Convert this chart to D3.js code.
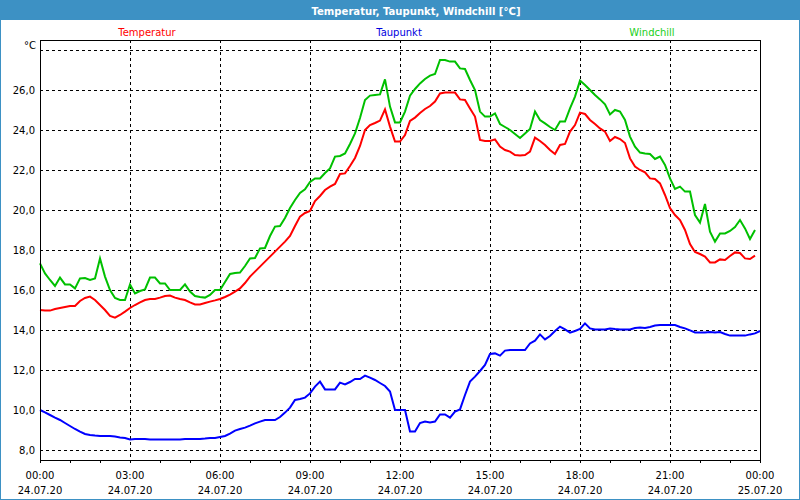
<!DOCTYPE html>
<html><head><meta charset="utf-8">
<script src="https://cdn.jsdelivr.net/npm/d3@7"></script>
<style>html,body{margin:0;padding:0;background:#fff;}svg{display:block;}</style>
</head><body>
<svg id="chart" width="800" height="500"></svg>
<script>
// ---- data (10-minute readings, 24.07.20 00:00 .. 23:50) ----
const title = "Temperatur, Taupunkt, Windchill [°C]";
const seriesNames = ["Temperatur", "Taupunkt", "Windchill"];
const stepMinutes = 10;
const temperatur = [
15.0,14.97,14.97,15.05,15.1,15.15,15.2,15.2,15.45,15.6,15.67,15.5,15.25,15.0,14.7,14.62,14.75,14.92,15.1,15.25,
15.38,15.5,15.55,15.55,15.62,15.7,15.72,15.62,15.55,15.5,15.38,15.28,15.28,15.35,15.42,15.48,15.55,15.65,15.77,15.92,
16.08,16.35,16.67,16.92,17.17,17.42,17.67,17.92,18.17,18.42,18.7,19.2,19.67,19.85,19.95,20.45,20.7,21.0,21.17,21.3,
21.8,21.83,22.2,22.6,23.2,24.0,24.25,24.35,24.47,25.03,24.17,23.42,23.42,23.75,24.45,24.62,24.85,25.05,25.2,25.42,
25.83,25.87,25.87,25.87,25.53,25.5,25.08,24.67,23.5,23.45,23.45,23.53,23.17,23.0,22.92,22.75,22.72,22.75,22.92,23.62,
23.45,23.25,23.0,22.8,23.25,23.3,23.92,24.25,24.87,24.8,24.5,24.3,24.08,23.92,23.45,23.65,23.55,23.35,22.58,22.17,
22.0,21.88,21.58,21.55,21.33,20.75,20.1,19.75,19.5,19.0,18.3,17.9,17.8,17.67,17.38,17.38,17.53,17.5,17.7,17.88,
17.85,17.58,17.55,17.72];
const taupunkt = [
10.0,9.88,9.75,9.62,9.5,9.35,9.2,9.05,8.92,8.8,8.75,8.72,8.7,8.7,8.7,8.67,8.63,8.6,8.53,8.55,
8.55,8.55,8.53,8.53,8.53,8.53,8.53,8.53,8.53,8.55,8.55,8.55,8.55,8.57,8.6,8.6,8.65,8.7,8.82,8.97,
9.05,9.12,9.22,9.33,9.42,9.5,9.5,9.5,9.65,9.87,10.12,10.5,10.55,10.62,10.83,11.17,11.42,11.03,11.03,11.03,
11.37,11.28,11.4,11.55,11.55,11.72,11.62,11.5,11.35,11.2,10.92,10.0,10.0,10.0,8.92,8.92,9.35,9.42,9.37,9.42,
9.78,9.78,9.62,9.92,10.03,10.75,11.42,11.67,11.95,12.25,12.8,12.83,12.72,12.97,13.0,13.0,13.0,13.0,13.33,13.47,
13.78,13.53,13.7,13.95,14.17,14.03,13.87,13.95,14.05,14.33,14.08,14.03,14.03,14.03,14.08,14.05,14.03,14.03,14.03,14.1,
14.12,14.1,14.15,14.22,14.25,14.25,14.25,14.25,14.15,14.08,13.98,13.88,13.88,13.88,13.9,13.88,13.9,13.8,13.72,13.72,
13.72,13.72,13.78,13.83,13.95];
const windchill = [
17.33,16.83,16.5,16.2,16.62,16.28,16.28,16.08,16.58,16.6,16.5,16.58,17.58,16.67,16.0,15.6,15.5,15.5,16.28,15.83,
15.95,16.03,16.62,16.62,16.33,16.33,16.0,16.0,16.0,16.28,15.92,15.7,15.65,15.62,15.75,16.0,16.0,16.4,16.8,16.85,
16.87,17.2,17.58,17.6,18.08,18.1,18.7,19.17,19.2,19.6,20.1,20.5,20.85,21.03,21.4,21.58,21.58,21.85,22.08,22.67,
22.7,22.83,23.3,23.83,24.6,25.5,25.72,25.75,25.78,26.53,25.17,24.38,24.38,24.92,25.72,26.05,26.33,26.55,26.72,26.8,
27.5,27.5,27.42,27.42,27.08,27.05,26.5,26.0,24.92,24.67,24.67,24.83,24.3,24.15,24.0,23.8,23.6,23.83,24.05,24.92,
24.5,24.33,24.15,24.0,24.42,24.42,25.08,25.67,26.47,26.25,26.0,25.75,25.53,25.28,24.78,25.0,24.92,24.5,23.67,23.17,
22.87,22.83,22.8,22.55,22.67,22.25,21.58,21.05,21.17,20.92,20.92,19.75,19.37,20.3,18.92,18.42,18.83,18.83,18.95,19.15,
19.5,19.08,18.55,19.0];
const yTicks = [8, 10, 12, 14, 16, 18, 20, 22, 24, 26];
const yUnitTick = 28;
const xMajorHours = [0, 3, 6, 9, 12, 15, 18, 21, 24];
const xTimeLabels = ["00:00","03:00","06:00","09:00","12:00","15:00","18:00","21:00","00:00"];
const xDateLabels = ["24.07.20","24.07.20","24.07.20","24.07.20","24.07.20","24.07.20","24.07.20","24.07.20","25.07.20"];
const colors = {Temperatur: "#ff0000", Taupunkt: "#0000ff", Windchill: "#00c000"};
const legendColors = {Temperatur: "#ff0000", Taupunkt: "#0000e0", Windchill: "#20d020"};

// ---- drawing ----
const W = 800, H = 500;
const m = {left: 40, right: 40, top: 40, bottom: 40};
const svg = d3.select("#chart");
const font = "'DejaVu Sans', Verdana, sans-serif";

svg.append("rect").attr("x", 0.5).attr("y", 0.5).attr("width", W - 1).attr("height", H - 1)
  .attr("fill", "#ffffff").attr("stroke", "#3d91c4").attr("stroke-width", 1);
svg.append("rect").attr("x", 0).attr("y", 0).attr("width", W).attr("height", 20).attr("fill", "#3d91c4");
svg.append("text").attr("x", 416).attr("y", 14.5).attr("text-anchor", "middle")
  .attr("fill", "#ffffff").attr("font-family", font).attr("font-weight", "bold").attr("font-size", 10.5)
  .attr("textLength", 209).attr("lengthAdjust", "spacingAndGlyphs").text(title);

const x = d3.scaleLinear().domain([0, 24]).range([m.left, W - m.right]);
const y = d3.scaleLinear().domain([7.5, 28.5]).range([H - m.bottom, m.top]);

const g = svg.append("g");
// horizontal grid
g.selectAll(".hg").data(yTicks.concat([yUnitTick])).join("line")
  .attr("x1", x(0)).attr("x2", x(24))
  .attr("y1", d => Math.round(y(d)) + 0.5).attr("y2", d => Math.round(y(d)) + 0.5)
  .attr("stroke", "#000").attr("stroke-dasharray", "3,3");
// vertical grid
g.selectAll(".vg").data(xMajorHours.slice(1, -1)).join("line")
  .attr("x1", d => Math.round(x(d)) + 0.5).attr("x2", d => Math.round(x(d)) + 0.5)
  .attr("y1", y(28.5)).attr("y2", y(7.5))
  .attr("stroke", "#000").attr("stroke-dasharray", "3,3");

// y axis labels
const yAxis = d3.axisLeft(y).tickValues(yTicks).tickSize(0).tickPadding(5)
  .tickFormat(d => d3.format(".1f")(d).replace(".", ","));
const ya = svg.append("g").attr("transform", `translate(${m.left},0)`).call(yAxis);
ya.select(".domain").remove();
ya.selectAll("text").attr("font-family", font).attr("font-size", 10).attr("fill", "#000");
svg.append("text").attr("x", 36).attr("y", y(yUnitTick) - 1).attr("text-anchor", "end")
  .attr("font-family", font).attr("font-size", 10).attr("fill", "#000").text("°C");

// x axis: minor ticks hourly, labels every 3h
const xAxis = d3.axisBottom(x).tickValues(d3.range(0, 25)).tickSize(3).tickFormat("");
const xa = svg.append("g").attr("transform", `translate(0,${H - m.bottom})`).call(xAxis);
xa.select(".domain").remove();
xa.selectAll("line").attr("stroke", "#000");
const xl = svg.append("g");
xl.selectAll(".t1").data(xMajorHours).join("text")
  .attr("x", d => x(d)).attr("y", 479).attr("text-anchor", "middle")
  .attr("font-family", font).attr("font-size", 10).attr("fill", "#000")
  .text((d, i) => xTimeLabels[i]);
xl.selectAll(".t2").data(xMajorHours).join("text")
  .attr("x", d => x(d)).attr("y", 494).attr("text-anchor", "middle")
  .attr("font-family", font).attr("font-size", 10).attr("fill", "#000")
  .text((d, i) => xDateLabels[i]);

// series lines
const series = [
  {name: "Temperatur", values: temperatur},
  {name: "Windchill", values: windchill},
  {name: "Taupunkt", values: taupunkt}
];
const line = d3.line().x((d, i) => x(i * stepMinutes / 60)).y(d => y(d));
svg.append("g").selectAll("path").data(series).join("path")
  .attr("d", s => line(s.values)).attr("fill", "none")
  .attr("stroke", s => colors[s.name]).attr("stroke-width", 2).attr("stroke-linejoin", "miter");

// frame
svg.append("rect").attr("x", m.left + 0.5).attr("y", m.top + 0.5)
  .attr("width", W - m.left - m.right).attr("height", H - m.top - m.bottom)
  .attr("fill", "none").attr("stroke", "#000").attr("stroke-width", 1);

// legend
const legendX = {Temperatur: 147, Taupunkt: 399, Windchill: 652};
svg.append("g").selectAll("text").data(seriesNames).join("text")
  .attr("x", d => legendX[d]).attr("y", 36).attr("text-anchor", "middle")
  .attr("font-family", font).attr("font-size", 10).attr("fill", d => legendColors[d]).text(d => d);
</script>
</body></html>
